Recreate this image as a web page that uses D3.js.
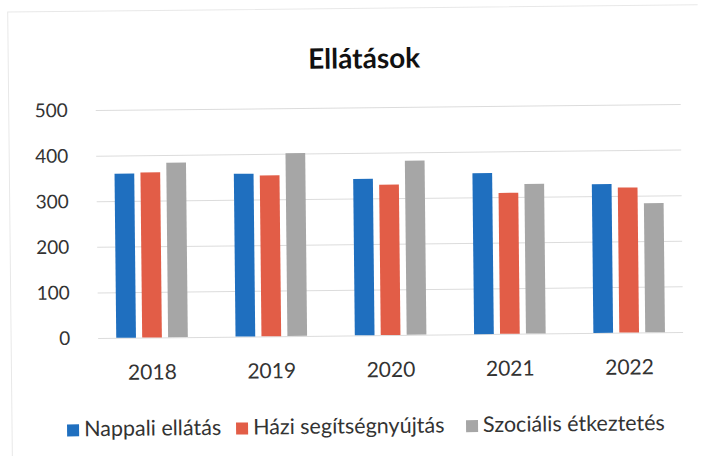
<!DOCTYPE html>
<html>
<head>
<meta charset="utf-8">
<script src="https://cdn.jsdelivr.net/npm/d3@7"></script>
<style>
  body { margin: 0; background: #fff; }
  text { font-family: Lato, "Open Sans", sans-serif; }
</style>
</head>
<body>
<div id="chart"></div>
<script>
// data
const years = ["2018", "2019", "2020", "2021", "2022"];
const seriesNames = ["Nappali ellátás", "Házi segítségnyújtás", "Szociális étkeztetés"];
const nappali = [360, 357, 343, 353, 326];
const hazi = [362, 353, 330, 309, 318];
const szocialis = [383, 401, 382, 328, 283];
const yTicks = [0, 100, 200, 300, 400, 500];

// colors
const colors = ["#1f6fbf", "#e25d47", "#a6a6a6"];

// canvas
const width = 707;
const height = 456;
const margin = { top: 107, right: 25, bottom: 121, left: 97 };

const svg = d3
  .select("#chart")
  .append("svg")
  .attr("width", width)
  .attr("height", height);

// scan is slightly tilted
const root = svg.append("g").attr("transform", "rotate(-0.6, 390, 230)");

// faint chart frame (left and top edges only)
root
  .append("path")
  .attr("d", "M10,456 L10,8 L700,8")
  .attr("fill", "none")
  .attr("stroke", "#e8e8e8");

// title
root
  .append("text")
  .attr("x", 366)
  .attr("y", 68)
  .attr("text-anchor", "middle")
  .style("font-size", "28px")
  .style("font-weight", "bold")
  .style("fill", "#111")
  .text("Ellátások");

// scales
const x = d3
  .scaleBand()
  .domain(years)
  .range([margin.left, width - margin.right])
  .paddingInner(0.4)
  .paddingOuter(0.152);

const xInner = d3
  .scaleBand()
  .domain(d3.range(seriesNames.length))
  .range([0, x.bandwidth()])
  .paddingInner(0.24);

const y = d3
  .scaleLinear()
  .domain([0, 500])
  .range([height - margin.bottom, margin.top]);

// gridlines
const yAxis = d3
  .axisLeft(y)
  .tickValues(yTicks)
  .tickSize(-(width - margin.left - margin.right))
  .tickPadding(28);

root
  .append("g")
  .attr("transform", "translate(" + margin.left + ",0)")
  .call(yAxis)
  .call((g) => g.select(".domain").remove())
  .call((g) => g.selectAll(".tick line").attr("stroke", "#dcdcdc"))
  .call((g) =>
    g
      .selectAll(".tick text")
      .style("font-size", "19px")
      .style("fill", "#333")
      .style("font-family", "Lato, sans-serif")
  );

// bars
const table = years.map((yr, i) => ({
  year: yr,
  values: [nappali[i], hazi[i], szocialis[i]],
}));

const groups = root
  .selectAll(".year")
  .data(table)
  .enter()
  .append("g")
  .attr("class", "year")
  .attr("transform", (d) => "translate(" + x(d.year) + ",0)");

groups
  .selectAll("rect")
  .data((d) => d.values)
  .enter()
  .append("rect")
  .attr("x", (d, i) => xInner(i))
  .attr("y", (d) => y(d))
  .attr("width", xInner.bandwidth())
  .attr("height", (d) => y(0) - y(d))
  .attr("fill", (d, i) => colors[i]);

// x axis labels
const xAxis = d3.axisBottom(x).tickSize(0).tickPadding(27);

root
  .append("g")
  .attr("transform", "translate(0," + y(0) + ")")
  .call(xAxis)
  .call((g) => g.select(".domain").remove())
  .call((g) =>
    g
      .selectAll(".tick text")
      .style("font-size", "21px")
      .style("fill", "#333")
      .style("font-family", "Lato, sans-serif")
  );

// legend
const legendX = [65, 234, 464];
const legend = root
  .selectAll(".legend")
  .data(seriesNames)
  .enter()
  .append("g")
  .attr("class", "legend")
  .attr("transform", (d, i) => "translate(" + legendX[i] + ",433)");

legend
  .append("rect")
  .attr("x", 0)
  .attr("y", -12)
  .attr("width", 12)
  .attr("height", 12)
  .attr("fill", (d, i) => colors[i]);

legend
  .append("text")
  .attr("x", 17)
  .attr("y", 0)
  .style("font-size", "21.5px")
  .style("fill", "#333")
  .text((d) => d);
</script>
</body>
</html>
